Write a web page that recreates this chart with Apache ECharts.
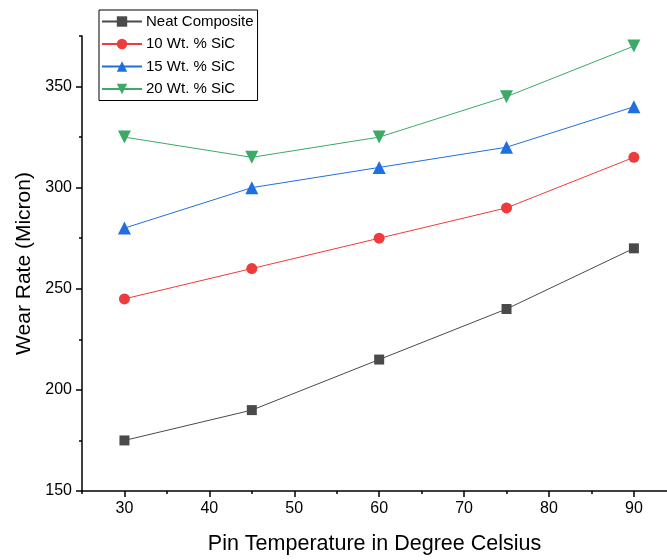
<!DOCTYPE html>
<html>
<head>
<meta charset="utf-8">
<script src="https://cdn.jsdelivr.net/npm/echarts@6/dist/echarts.min.js"></script>
<style>
  html, body { margin: 0; padding: 0; background: #fff; }
  #chart { width: 667px; height: 560px; }
</style>
</head>
<body>
<div id="chart"></div>
<script>
  // values
  const temps = [30, 45, 60, 75, 90];
  const neat = [175, 190, 215, 240, 270];
  const sic10 = [245, 260, 275, 290, 315];
  const sic15 = [280, 300, 310, 320, 340];
  const sic20 = [325, 315, 325, 345, 370];
  const xTicks = [30, 40, 50, 60, 70, 80, 90];
  const xMinor = [25, 35, 45, 55, 65, 75, 85];
  const yTicks = [150, 200, 250, 300, 350];
  const yMinor = [175, 225, 275, 325, 375];

  const font = 'Liberation Sans, Arial, sans-serif';
  const chart = echarts.init(document.getElementById('chart'));

  const pairs = arr => temps.map((t, i) => [t, arr[i]]);
  const mkSeries = (name, data, color, symbol, size, rotate) => ({
    name: name,
    type: 'line',
    xAxisIndex: 0,
    yAxisIndex: 0,
    data: pairs(data),
    symbol: symbol,
    symbolSize: size,
    symbolRotate: rotate || 0,
    lineStyle: { color: color, width: 1 },
    itemStyle: { color: color },
    emphasis: { disabled: true },
    animation: false
  });

  const xMin = 25, xMax = 93.9, yMin = 150, yMax = 375;

  const option = {
    animation: false,
    grid: { left: 82, right: 0, top: 36, bottom: 68 },
    legend: {
      orient: 'vertical',
      left: 99,
      top: 10,
      itemWidth: 40,
      itemHeight: 13,
      itemGap: 7.5,
      padding: [4, 4, 4, 2],
      borderColor: '#000',
      borderWidth: 1,
      backgroundColor: '#fff',
      textStyle: { fontFamily: font, fontSize: 15, color: '#000', padding: [0, 0, 0, -1] },
      data: ['Neat Composite', '10 Wt. % SiC', '15 Wt. % SiC', '20 Wt. % SiC']
    },
    xAxis: [
      {
        type: 'value',
        min: xMin,
        max: xMax,
        name: 'Pin Temperature in Degree Celsius',
        nameLocation: 'middle',
        nameGap: 42,
        nameTextStyle: { fontFamily: font, fontSize: 21.5, color: '#000' },
        axisLine: { show: true, lineStyle: { color: '#000', width: 1.5 } },
        axisTick: { show: true, customValues: xTicks, length: 6, lineStyle: { color: '#000', width: 1.5 } },
        axisLabel: { customValues: xTicks, fontFamily: font, fontSize: 16, color: '#000', margin: 10 },
        splitLine: { show: false }
      },
      {
        type: 'value',
        min: xMin,
        max: xMax,
        position: 'bottom',
        axisLine: { show: false },
        axisTick: { show: true, customValues: xMinor, length: 3, lineStyle: { color: '#000', width: 1.5 } },
        axisLabel: { show: false },
        splitLine: { show: false }
      }
    ],
    yAxis: [
      {
        type: 'value',
        min: yMin,
        max: yMax,
        name: 'Wear Rate (Micron)',
        nameLocation: 'middle',
        nameGap: 47,
        nameTextStyle: { fontFamily: font, fontSize: 21, color: '#000' },
        axisLine: { show: true, lineStyle: { color: '#000', width: 1.5 } },
        axisTick: { show: true, customValues: yTicks, length: 6, lineStyle: { color: '#000', width: 1.5 } },
        axisLabel: { customValues: yTicks, fontFamily: font, fontSize: 16, color: '#000', margin: 10 },
        splitLine: { show: false }
      },
      {
        type: 'value',
        min: yMin,
        max: yMax,
        position: 'left',
        axisLine: { show: false },
        axisTick: { show: true, customValues: yMinor, length: 3, lineStyle: { color: '#000', width: 1.5 } },
        axisLabel: { show: false },
        splitLine: { show: false }
      }
    ],
    series: [
      mkSeries('Neat Composite', neat, '#4a4a4a', 'rect', 10),
      mkSeries('10 Wt. % SiC', sic10, '#ee3b3b', 'circle', 11),
      mkSeries('15 Wt. % SiC', sic15, '#1f6fe0', 'triangle', 13),
      mkSeries('20 Wt. % SiC', sic20, '#3aaa66', 'triangle', 13, 180)
    ]
  };

  chart.setOption(option);
</script>
</body>
</html>
